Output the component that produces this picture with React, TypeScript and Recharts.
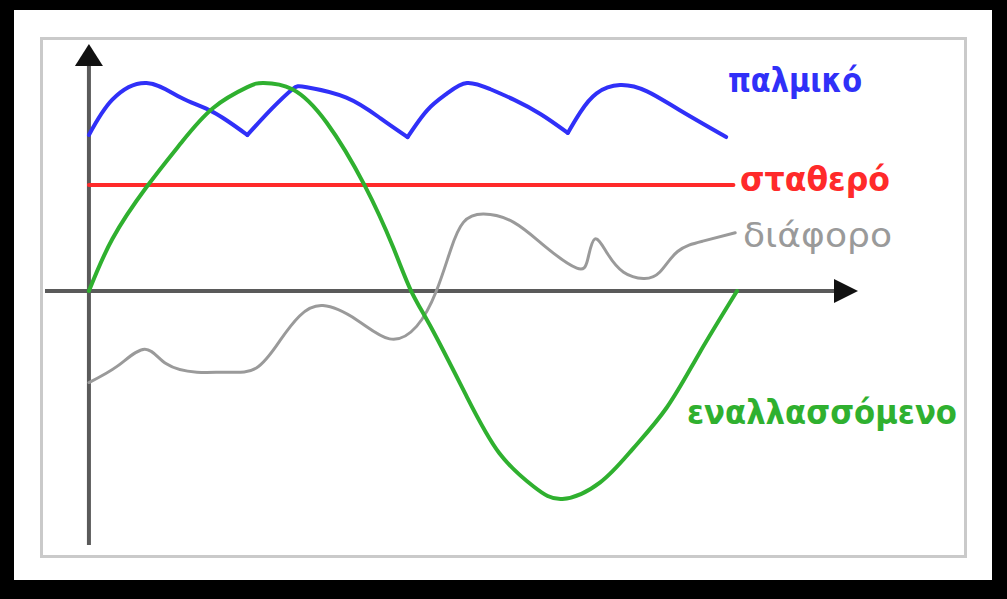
import { ComposedChart, Line, XAxis, YAxis, ReferenceLine, ReferenceDot } from "recharts";

type Pt = { x: number; y: number };

// x: phase of the alternating wave (0..360), y: amplitude (peak = 100)
const alternating: Pt[] = [
  { x: 0, y: 0 },
  { x: 13, y: 25 },
  { x: 32, y: 50 },
  { x: 51, y: 71 },
  { x: 69, y: 88 },
  { x: 88, y: 98 },
  { x: 97, y: 100 },
  { x: 113, y: 97 },
  { x: 132, y: 81 },
  { x: 153, y: 51 },
  { x: 169, y: 21 },
  { x: 179, y: 0 },
  { x: 191, y: -19 },
  { x: 210, y: -51 },
  { x: 228, y: -78 },
  { x: 247, y: -94 },
  { x: 263, y: -100 },
  { x: 284, y: -92 },
  { x: 302, y: -76 },
  { x: 321, y: -56 },
  { x: 339, y: -30 },
  { x: 360, y: 0 },
];

const pulse1: Pt[] = [
  { x: 0, y: 75 },
  { x: 13, y: 92 },
  { x: 32, y: 100 },
  { x: 51, y: 93 },
  { x: 69, y: 86 },
  { x: 88, y: 75 },
];
const pulse2: Pt[] = [
  { x: 88, y: 75 },
  { x: 102, y: 88 },
  { x: 113, y: 97 },
  { x: 121, y: 98 },
  { x: 143, y: 93 },
  { x: 162, y: 83 },
  { x: 177, y: 74 },
];
const pulse3: Pt[] = [
  { x: 177, y: 74 },
  { x: 188, y: 87 },
  { x: 199, y: 95 },
  { x: 210, y: 100 },
  { x: 223, y: 97 },
  { x: 236, y: 92 },
  { x: 251, y: 85 },
  { x: 266, y: 76 },
];
const pulse4: Pt[] = [
  { x: 266, y: 76 },
  { x: 273, y: 86 },
  { x: 282, y: 95 },
  { x: 295, y: 99 },
  { x: 310, y: 96 },
  { x: 328, y: 87 },
  { x: 354, y: 74 },
];
const pulseArches = [pulse1, pulse2, pulse3, pulse4];

const constant: Pt[] = [
  { x: 0, y: 51 },
  { x: 358, y: 51 },
];

const varying: Pt[] = [
  { x: 0, y: -44 },
  { x: 16, y: -36 },
  { x: 31, y: -28 },
  { x: 43, y: -35 },
  { x: 60, y: -39 },
  { x: 77, y: -39 },
  { x: 93, y: -37 },
  { x: 106, y: -24 },
  { x: 117, y: -12 },
  { x: 130, y: -7 },
  { x: 149, y: -14 },
  { x: 167, y: -23 },
  { x: 182, y: -17 },
  { x: 193, y: 0 },
  { x: 201, y: 20 },
  { x: 208, y: 33 },
  { x: 219, y: 37 },
  { x: 236, y: 33 },
  { x: 254, y: 21 },
  { x: 271, y: 11 },
  { x: 277, y: 15 },
  { x: 281, y: 25 },
  { x: 288, y: 18 },
  { x: 297, y: 9 },
  { x: 308, y: 6 },
  { x: 317, y: 9 },
  { x: 327, y: 19 },
  { x: 341, y: 24 },
  { x: 359, y: 28 },
];

const seriesNames = ["παλμικό", "σταθερό", "διάφορο", "εναλλασσόμενο"];

const xMin = -24.4;
const xMax = 427.2;
const yMin = -122.1;
const yMax = 118.75;

const BLUE = "#3030f8";
const RED = "#ff2a2a";
const GRAY = "#9a9a9a";
const GREEN = "#2fb02f";
const AXIS = "#5a5a5a";

const ArrowRight = (props: any) => {
  const { cx, cy } = props;
  return <polygon points={`${cx},${cy} ${cx - 24},${cy - 12} ${cx - 24},${cy + 12}`} fill="#111" />;
};

const ArrowUp = (props: any) => {
  const { cx, cy } = props;
  return <polygon points={`${cx},${cy} ${cx - 14},${cy + 22} ${cx + 14},${cy + 22}`} fill="#111" />;
};

export default function App() {
  const lineProps = {
    dataKey: "y",
    type: "natural" as const,
    dot: false,
    activeDot: false,
    isAnimationActive: false,
    strokeLinecap: "round" as const,
    strokeLinejoin: "round" as const,
  };
  return (
    <div
      style={{
        position: "absolute",
        left: 0,
        top: 0,
        width: 1007,
        height: 599,
        background: "#000",
        overflow: "hidden",
      }}
    >
      <div style={{ position: "absolute", left: 14, top: 10, width: 978, height: 570, background: "#fff" }} />
      <div
        style={{
          position: "absolute",
          left: 40,
          top: 37,
          width: 921,
          height: 515,
          border: "3px solid #cacaca",
        }}
      />
      <div style={{ position: "absolute", left: 0, top: 0 }}>
        <ComposedChart width={1007} height={599} margin={{ top: 44, left: 45, right: 149, bottom: 54 }}>
          <XAxis type="number" dataKey="x" domain={[xMin, xMax]} hide allowDataOverflow />
          <YAxis type="number" dataKey="y" domain={[yMin, yMax]} hide allowDataOverflow />
          <ReferenceLine
            segment={[{ x: xMin, y: 0 }, { x: 414, y: 0 }]}
            stroke={AXIS}
            strokeWidth={4}
            ifOverflow="visible"
          />
          <ReferenceLine
            segment={[{ x: 0, y: yMin }, { x: 0, y: 110 }]}
            stroke={AXIS}
            strokeWidth={4}
            ifOverflow="visible"
          />
          <ReferenceDot x={xMax} y={0} ifOverflow="visible" shape={ArrowRight} />
          <ReferenceDot x={0} y={yMax} ifOverflow="visible" shape={ArrowUp} />
          <Line {...lineProps} data={constant} stroke={RED} strokeWidth={4} type="linear" />
          <Line {...lineProps} data={varying} stroke={GRAY} strokeWidth={3} />
          {pulseArches.map((arch, i) => (
            <Line key={i} {...lineProps} data={arch} stroke={BLUE} strokeWidth={4} />
          ))}
          <Line {...lineProps} data={alternating} stroke={GREEN} strokeWidth={4} />
        </ComposedChart>
      </div>
      <svg
        width={1007}
        height={599}
        style={{ position: "absolute", left: 0, top: 0, pointerEvents: "none" }}
        fontFamily="'DejaVu Sans', sans-serif"
      >
        <text x={728} y={92} fontSize={33} fontWeight="bold" fill={BLUE} textLength={134} lengthAdjust="spacingAndGlyphs">
          {seriesNames[0]}
        </text>
        <text x={740} y={191} fontSize={33} fontWeight="bold" fill={RED} textLength={150} lengthAdjust="spacingAndGlyphs">
          {seriesNames[1]}
        </text>
        <text x={743} y={247} fontSize={33} fill={GRAY} textLength={149} lengthAdjust="spacingAndGlyphs">
          {seriesNames[2]}
        </text>
        <text x={687} y={424} fontSize={33} fontWeight="bold" fill={GREEN} textLength={270} lengthAdjust="spacingAndGlyphs">
          {seriesNames[3]}
        </text>
      </svg>
    </div>
  );
}
